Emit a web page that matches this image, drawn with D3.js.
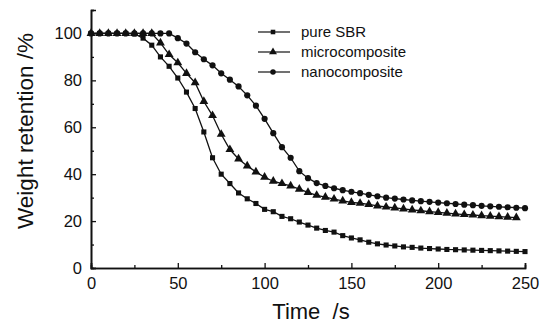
<!DOCTYPE html>
<html>
<head>
<meta charset="utf-8">
<script src="https://cdn.jsdelivr.net/npm/d3@7"></script>
<style>
  body { margin: 0; background: #fff; }
  text { font-family: "Liberation Sans", Arial, sans-serif; fill: #111; }
</style>
</head>
<body>
<svg id="chart"></svg>
<script>
// time axis, one reading every 5 s
const times = d3.range(0, 251, 5);

const pureSBR = [100, 100, 100, 100, 100, 99.8, 98, 95, 90, 86, 81, 75, 68, 58, 47, 40, 36, 32, 29.5, 27.5,
    25, 24, 22, 21, 19.6, 18.3, 17, 16, 15.3, 13.8, 12.8, 12, 11, 10.3, 9.8, 9.4, 9, 8.8, 8.5, 8.3,
    8.1, 7.9, 7.8, 7.7, 7.6, 7.5, 7.4, 7.3, 7.2, 7.1, 7.0];
const micro = [100, 100, 100, 100, 100, 100, 100, 100, 96, 91, 87.5, 83, 79, 71, 65, 57, 50.5, 46.5, 43.5, 41,
    38.7, 37, 36, 35, 33.6, 32.2, 31, 30.2, 29.4, 28.6, 28, 27.6, 27.1, 26.5, 26, 25.6, 25.2, 24.8, 24.4, 24,
    23.7, 23.4, 23.1, 22.8, 22.6, 22.3, 22.1, 21.9, 21.7, 21.5];
const nano = [100, 100, 100, 100, 100, 100, 100, 100, 100, 100, 98, 95.7, 92, 89, 86.4, 83, 80.3, 77.4, 73.6, 69.2,
    63.6, 57.5, 51.5, 47, 41.3, 38.3, 36.2, 35, 34, 33.2, 32.5, 31.9, 31.2, 30.6, 30, 29.6, 29.2, 28.8, 28.5, 28.2,
    27.9, 27.6, 27.3, 27, 26.8, 26.5, 26.3, 26.1, 25.9, 25.7, 25.5];

const seriesNames = ["pure SBR", "microcomposite", "nanocomposite"];
const seriesValues = [pureSBR, micro, nano];
const symbols = [d3.symbolSquare, d3.symbolTriangle, d3.symbolCircle];
const symbolSizes = [26, 34, 30];

const xTicks = [0, 50, 100, 150, 200, 250];
const yTicks = [0, 20, 40, 60, 80, 100];

const width = 541, height = 323;
const margin = {left: 91, right: 16, top: 10, bottom: 55};

const svg = d3.select("#chart")
    .attr("width", width)
    .attr("height", height);

const x = d3.scaleLinear().domain([0, 250]).range([margin.left, width - margin.right]);
const y = d3.scaleLinear().domain([0, 110]).range([height - margin.bottom, margin.top]);

// axes with inward ticks
svg.append("g")
    .attr("transform", `translate(0,${y(0)})`)
    .call(d3.axisBottom(x).tickValues(xTicks).tickSize(-5).tickPadding(9).tickFormat(d3.format("d")));
svg.append("g")
    .attr("transform", `translate(0,${y(0)})`)
    .call(d3.axisBottom(x).tickValues([25, 75, 125, 175, 225]).tickSize(-3).tickFormat(""));

svg.append("g")
    .attr("transform", `translate(${x(0)},0)`)
    .call(d3.axisLeft(y).tickValues(yTicks).tickSize(-5).tickPadding(9).tickFormat(d3.format("d")));
svg.append("g")
    .attr("transform", `translate(${x(0)},0)`)
    .call(d3.axisLeft(y).tickValues([10, 30, 50, 70, 90, 110]).tickSize(-3).tickFormat(""));

svg.selectAll(".domain").attr("stroke", "#111").attr("stroke-width", 1.6);
svg.selectAll(".tick line").attr("stroke", "#111").attr("stroke-width", 1.3);
svg.selectAll(".tick text").attr("font-size", 16.5).attr("fill", "#111");

// axis titles
svg.append("text")
    .attr("x", 311)
    .attr("y", 319)
    .attr("text-anchor", "middle")
    .attr("font-size", 22)
    .style("white-space", "pre")
    .text("Time  /s");

svg.append("text")
    .attr("transform", `translate(33,131) rotate(-90)`)
    .attr("text-anchor", "middle")
    .attr("font-size", 22.5)
    .text("Weight retention /%");

const line = d3.line()
    .x((d, i) => x(times[i]))
    .y(d => y(d));

seriesValues.forEach((vals, s) => {
    const g = svg.append("g");
    g.append("path")
        .datum(vals)
        .attr("fill", "none")
        .attr("stroke", "#111")
        .attr("stroke-width", 1.3)
        .attr("d", line);
    g.selectAll("path.pt")
        .data(vals)
        .join("path")
        .attr("class", "pt")
        .attr("transform", (d, i) => `translate(${x(times[i])},${y(d)})`)
        .attr("d", d3.symbol().type(symbols[s]).size(symbolSizes[s]))
        .attr("fill", "#111");
});

// legend
const legend = svg.append("g").attr("transform", "translate(258,32)");
seriesNames.forEach((name, i) => {
    const row = legend.append("g").attr("transform", `translate(0,${i * 20})`);
    row.append("line")
        .attr("x1", 0).attr("x2", 32)
        .attr("y1", 0).attr("y2", 0)
        .attr("stroke", "#111").attr("stroke-width", 1.2);
    row.append("path")
        .attr("transform", "translate(15,0)")
        .attr("d", d3.symbol().type(symbols[i]).size(symbolSizes[i] * 0.8))
        .attr("fill", "#111");
    row.append("text")
        .attr("x", 43)
        .attr("y", 5)
        .attr("font-size", 15)
        .text(name);
});
</script>
</body>
</html>
